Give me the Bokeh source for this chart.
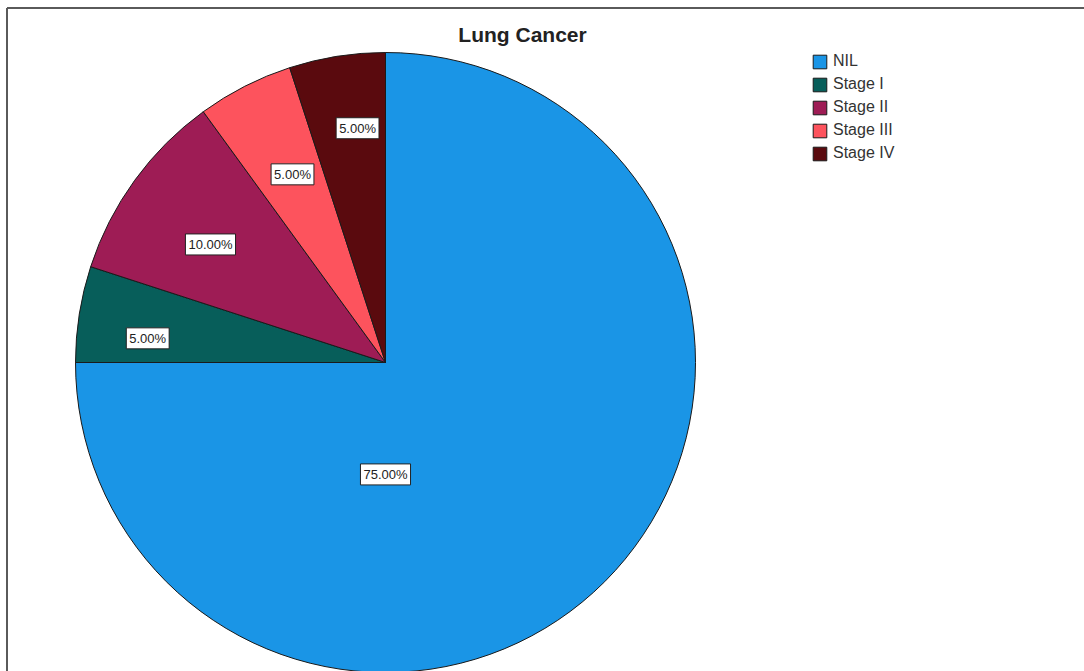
import math
from bokeh.plotting import figure
from bokeh.models import ColumnDataSource, Label, Range1d, Legend, LegendItem
from bokeh.core.properties import value
from bokeh.embed import file_html
from bokeh.resources import INLINE

# ---- data ----
categories = ["NIL", "Stage I", "Stage II", "Stage III", "Stage IV"]
percentages = [75.0, 5.0, 10.0, 5.0, 5.0]
colors = ["#1A95E6", "#075E5A", "#9E1C55", "#FD535D", "#5A0A0E"]
title_text = "Lung Cancer"

# ---- layout constants (pixels) ----
W, H = 1084, 671
cx, cy_px, R = 385, 362, 310
cy = H - cy_px
label_r_frac = [0.361, 0.771, 0.681, 0.677, 0.761]
label_angle_deg = [-90.0, 174.2, 146.0, 116.3, 96.8]

total = sum(percentages)
starts, ends, lx, ly, texts = [], [], [], [], []
cum = 0.0
for i, v in enumerate(percentages):
    a0 = math.pi / 2 - 2 * math.pi * cum / total
    cum += v
    a1 = math.pi / 2 - 2 * math.pi * cum / total
    starts.append(a0)
    ends.append(a1)
    ang = math.radians(label_angle_deg[i])
    r = R * label_r_frac[i]
    lx.append(cx + r * math.cos(ang))
    ly.append(cy + r * math.sin(ang))
    texts.append(f"{v / total * 100:.2f}%")

src = ColumnDataSource(dict(cat=categories, start=starts, end=ends, color=colors,
                            lx=lx, ly=ly, txt=texts))

p = figure(width=W, height=H, x_range=Range1d(0, W), y_range=Range1d(0, H),
           x_axis_type=None, y_axis_type=None, toolbar_location=None,
           output_backend="svg", min_border=0)
p.outline_line_color = None
p.grid.visible = False
p.background_fill_color = "white"

# outer frame lines
p.segment(x0=[6.5, 6.5], y0=[H - 7.5, H - 7.5], x1=[W + 5, 6.5], y1=[H - 7.5, -5],
          line_color="#5a5a5a", line_width=2)

items = []
for i in range(len(categories)):
    r = p.wedge(x=cx, y=cy, radius=R, start_angle=starts[i], end_angle=ends[i],
                direction="clock", fill_color=colors[i], line_color="#1a1a1a",
                line_width=1)
    items.append(LegendItem(label=categories[i], renderers=[r]))

p.text(x="lx", y="ly", text="txt", source=src, text_align="center",
       text_baseline="middle", text_font=value("Liberation Sans"),
       text_font_size="13px", text_color="#222222",
       background_fill_color="white", border_line_color="#222222",
       border_line_width=1, padding=3)

p.add_layout(Label(x=522, y=H - 34, text=title_text, text_align="center",
                   text_baseline="middle", text_font="Liberation Sans",
                   text_font_style="bold", text_font_size="21px",
                   text_color="#222222"))

legend = Legend(items=items, location=(811, H - 162), orientation="vertical",
                glyph_width=17, glyph_height=17, spacing=5, label_standoff=5,
                label_height=17, padding=0, margin=0,
                label_text_font="Liberation Sans", label_text_font_size="16px",
                label_text_color="#333333", border_line_color=None,
                background_fill_alpha=0)
p.add_layout(legend)

open("out.html", "w").write(file_html(p, INLINE))
